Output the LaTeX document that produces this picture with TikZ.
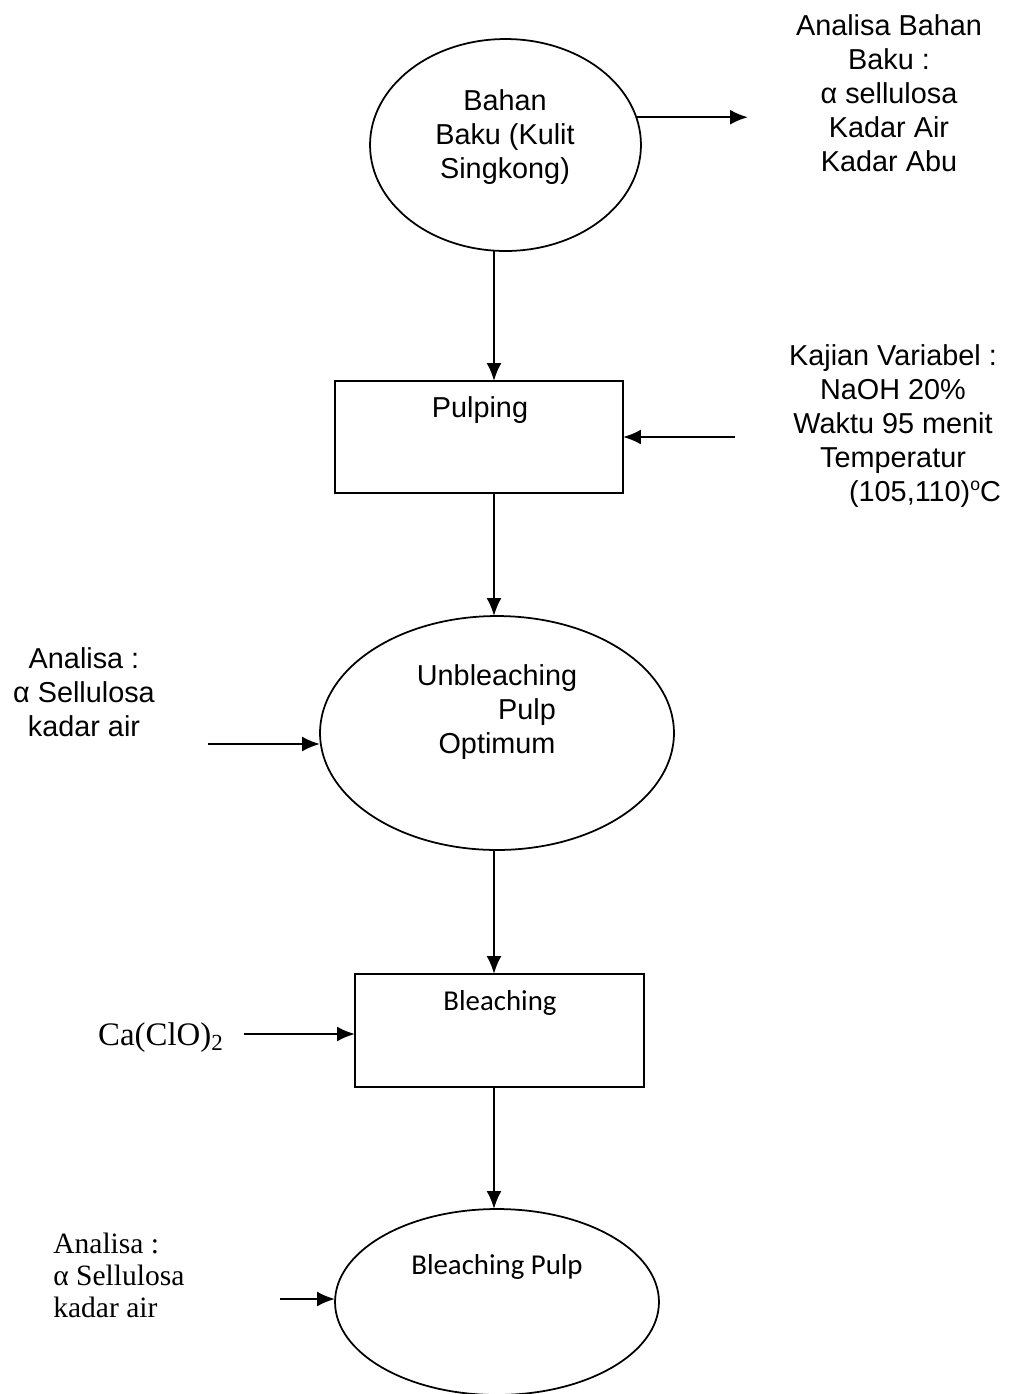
\documentclass[tikz,border=0pt]{standalone}
\usepackage{fontspec}
\setmainfont{Liberation Sans}
\newfontfamily\calibrifont{Carlito}
\newfontfamily\timesfont{Liberation Serif}
\usetikzlibrary{arrows.meta,positioning,shapes.geometric,calc}

\begin{document}
\begin{tikzpicture}[x=0.02cm,y=-0.02cm,
  flow/.style={-{Latex[length=0.36cm,width=0.3cm]},line width=1.3pt},
  oval/.style={draw,ellipse,line width=1pt,inner sep=0pt,outer sep=0pt},
  stepbox/.style={draw,rectangle,line width=1pt,inner sep=0pt,outer sep=0pt},
  txt/.style={align=center,inner sep=0pt,font=\fontsize{16.4}{19.4}\selectfont}]
\useasboundingbox (0,0) rectangle (1009,1394);
% Bahan baku
\node[oval,minimum width=5.42cm,minimum height=4.24cm] (b1) at (505.5,145) {};
\node[txt] (b1txt) at (505,137) {Bahan\\Baku (Kulit\\Singkong)};
\node[txt] (ana1) at (889,93) {Analisa Bahan\\Baku :\\α sellulosa\\Kadar Air\\Kadar Abu};
\coordinate (a1end) at (748,118);
\draw[flow] (b1.12) -- (b1.12 -| a1end);
% Pulping
\coordinate (spine) at (494,0);
\node[stepbox,minimum width=5.76cm,minimum height=2.24cm] (p1) at (479,437) {};
\node[txt] (p1txt) at (480,410) {Pulping};
\node[txt] (kaj1) at (893,426) {Kajian Variabel :\\NaOH 20\%\\Waktu 95 menit\\Temperatur\\\hspace*{1.28cm}(105,110)\raisebox{0.75ex}{\fontsize{10}{10}\selectfont o}C};
\draw[flow] (spine |- b1.south) -- (spine |- p1.north);
\coordinate (a2start) at (735,437);
\draw[flow] (a2start) -- (a2start -| p1.east);
% Unbleaching pulp
\node[oval,minimum width=7.08cm,minimum height=4.68cm] (u1) at (497,733) {};
\node[txt] (u1txt) at (497,712) {Unbleaching\\\hspace*{1.2cm}Pulp\\Optimum};
\node[txt] (ana2) at (84,692) {Analisa :\\α Sellulosa\\kadar air};
\draw[flow] (spine |- p1.south) -- (spine |- u1.north);
\coordinate (a3start) at (208,744);
\draw[flow] (a3start) -- (a3start -| u1.west);
% Bleaching
\node[stepbox,minimum width=5.78cm,minimum height=2.26cm] (bl1) at (499.5,1030.5) {};
\node[txt,font=\calibrifont\fontsize{16.4}{19.4}\selectfont] (bl1txt) at (500,1003) {Bleaching};
\node[txt,font=\timesfont\fontsize{18.7}{22}\selectfont] (ca1) at (161,1038) {Ca(ClO)\textsubscript{2}};
\draw[flow] (spine |- u1.south) -- (spine |- bl1.north);
\coordinate (a4start) at (244,1034);
\draw[flow] (a4start) -- (a4start -| bl1.west);
% Bleaching pulp
\node[oval,minimum width=6.48cm,minimum height=3.72cm] (bp1) at (497,1302) {};
\node[txt,font=\calibrifont\fontsize{16.4}{19.4}\selectfont] (bp1txt) at (497,1267) {Bleaching Pulp};
\node[txt,align=left,anchor=west,font=\timesfont\fontsize{16.8}{18.2}\selectfont] (ana3) at (53,1275) {Analisa :\\α Sellulosa\\kadar air};
\draw[flow] (spine |- bl1.south) -- (spine |- bp1.north);
\coordinate (a5start) at (280,1299);
\draw[flow] (a5start) -- (a5start -| bp1.west);
\end{tikzpicture}
\end{document}
